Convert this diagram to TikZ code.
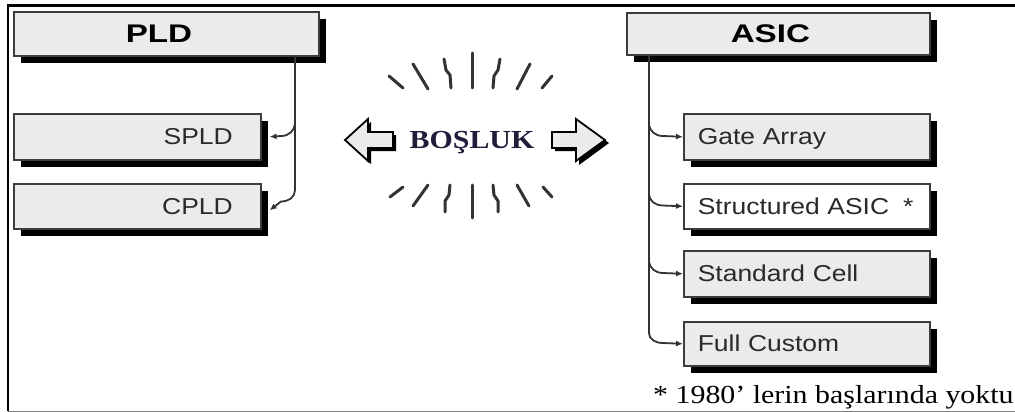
\documentclass[tikz,border=0pt]{standalone}
\usepackage{fontspec}
\usetikzlibrary{arrows.meta,shadows,calc}
\newfontfamily\headfont[FakeStretch=1.3]{Liberation Sans}
\newfontfamily\labelfont[FakeStretch=1.15]{Liberation Sans}
\newfontfamily\serifwide[FakeStretch=1.15]{Liberation Serif}
\definecolor{boxgray}{HTML}{EBEBEB}
\definecolor{edge}{HTML}{3C3C3C}
\definecolor{ink}{HTML}{1E1E3A}
\definecolor{labelink}{HTML}{2A2A2A}
\begin{document}
\begin{tikzpicture}[x=1pt,y=-1pt,
  box/.style={rectangle, draw=edge, line width=1.6pt, fill=boxgray, anchor=north west,
    inner ysep=0pt, drop shadow={shadow xshift=7pt, shadow yshift=-7pt, fill=black, opacity=1}},
  head/.style={box, font=\headfont\bfseries\fontsize{25.5}{25.5}\selectfont, text=black,
    text height=18pt, text depth=0pt, align=left},
  leftitem/.style={box, font=\labelfont\fontsize{23}{23}\selectfont, text=labelink,
    text height=16pt, text depth=0pt, inner xsep=28pt, text width=191pt, align=right},
  rightitem/.style={box, font=\labelfont\fontsize{23}{23}\selectfont, text=labelink,
    text height=16pt, text depth=0pt, inner xsep=14pt, text width=218pt, align=left},
  link/.style={draw=black!80, line width=1.8pt, -{Latex[length=7pt,width=6pt]}},
  trunk/.style={draw=black!80, line width=1.8pt},
  ray/.style={draw=black!80, line width=3pt, line cap=round, line join=round},
  blockarrow/.style={draw=black, line width=1.8pt, fill=boxgray, line join=miter}
]
\useasboundingbox (0,0) rectangle (1015,412);

% frame
\draw[line width=2.2pt] (8,411) -- (8,5.5) -- (1015,5.5);
\draw[gray, line width=1pt] (8,411) -- (1015,411);

% PLD family
\node[head, inner xsep=112pt, text width=81pt, minimum height=44pt] (pld) at (13,11) {PLD};
\node[leftitem, minimum height=46pt] (spld) at (13,113) {SPLD};
\node[leftitem, minimum height=45pt] (cpld) at (13,183) {CPLD};

% ASIC family
\node[head, inner xsep=104pt, text width=95pt, minimum height=42pt] (asic) at (626,12) {ASIC};
\node[rightitem, minimum height=46pt] (gate) at (683,113) {Gate Array};
\node[rightitem, fill=white, minimum height=45pt] (struct) at (683,183) {Structured ASIC\hspace{14pt}*};
\node[rightitem, minimum height=46pt] (std) at (683,250) {Standard Cell};
\node[rightitem, minimum height=44pt] (full) at (683,321) {Full Custom};

% PLD tree
\coordinate (pldtrunk) at (295,56);
\draw[trunk] (pldtrunk) -- (295,190);
\draw[link] (295,190) .. controls (295,197) and (289,201.5) .. (281,201.5) -- ($(cpld.east)+(8,4)$);
\draw[link] (295,124) .. controls (294,131) and (289,136) .. (281,136) -- ($(spld.east)+(8,0)$);

% ASIC tree
\coordinate (asictrunk) at (649,55);
\draw[trunk] (asictrunk) -- (649,333);
\draw[link] (649,333) .. controls (649,339) and (655,343) .. (663,343) -- (full.west);
\draw[link] (649,125) .. controls (650,131) and (655,136) .. (663,136) -- (gate.west);
\draw[link] (649,195) .. controls (650,201) and (655,205.5) .. (663,205.5) -- (struct.west);
\draw[link] (649,262) .. controls (650,268) and (655,273) .. (663,273) -- (std.west);

% block arrows around the gap label
\fill[black] (348,143) -- (371,122) -- (371,135) -- (396,135) -- (396,151) -- (371,151) -- (371,164) -- cycle;
\draw[blockarrow] (345,140) -- (368,119) -- (368,132) -- (393,132) -- (393,148) -- (368,148) -- (368,161) -- cycle;
\fill[black] (555,135) -- (579,135) -- (579,122) -- (609,143) -- (579,165) -- (579,151) -- (555,151) -- cycle;
\draw[blockarrow] (552,132) -- (576,132) -- (576,119) -- (605,140) -- (576,161) -- (576,148) -- (552,148) -- cycle;

\node[font=\serifwide\bfseries\fontsize{26}{26}\selectfont, text=ink, inner sep=0pt,
  text height=17pt, text depth=0pt] (gap) at (472,140) {BOŞLUK};

% rays above
\draw[ray] (389,76) -- (403,88);
\draw[ray] (413,64) -- (428,89);
\draw[ray] (444,59) -- (446,70) -- (450,75) -- (451,88);
\draw[ray] (472,53) -- (472,88);
\draw[ray] (500,59) -- (498,70) -- (494,76) -- (493,88);
\draw[ray] (530,64) -- (517,89);
\draw[ray] (552,76) -- (542,88);
% rays below
\draw[ray] (390,197) -- (403,187);
\draw[ray] (413,206) -- (428,185);
\draw[ray] (450,185) -- (449,195) -- (445,201) -- (445,212);
\draw[ray] (472,185) -- (472,218);
\draw[ray] (493,185) -- (494,195) -- (498,201) -- (498,212);
\draw[ray] (529,206) -- (517,185);
\draw[ray] (552,197) -- (543,187);

% footnote
\node[font=\serifwide\fontsize{26}{26}\selectfont, anchor=base west, inner sep=0pt] (note)
  at (653,403) {* 1980’ lerin başlarında yoktu};
\end{tikzpicture}
\end{document}
